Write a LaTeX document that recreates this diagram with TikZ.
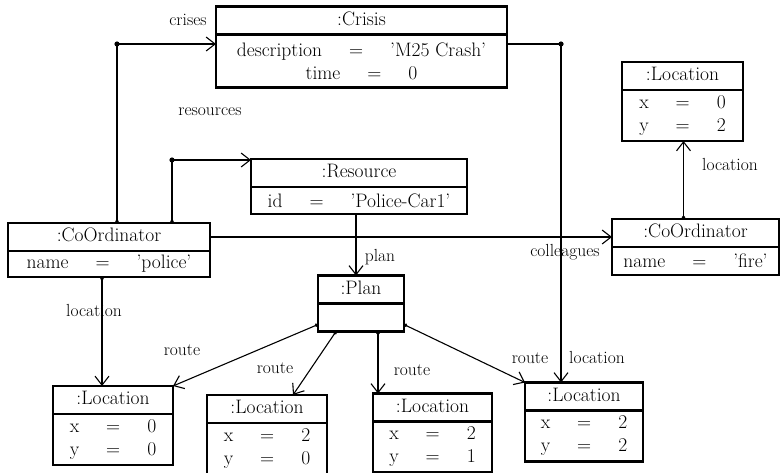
\documentclass[tikz,border=0pt]{standalone}
\usetikzlibrary{arrows.meta, positioning, calc}

\newcommand{\attr}[2]{#1\hspace{27pt}=\hspace{27pt}#2}

\begin{document}
\begin{tikzpicture}[x=1pt, y=-1pt,
            font=\fontsize{19.5}{23}\selectfont,
            head/.style={draw, line width=2.4pt, outer sep=0pt, inner sep=0pt, minimum height=28, text height=13.5pt, text depth=4pt},
            attrs/.style={draw, line width=2.4pt, outer sep=0pt, inner sep=0pt, align=center},
            assoc/.style={line width=1.1pt, -{Straight Barb[length=9pt, width=14pt]}},
            dotassoc/.style={line width=1.1pt, {Circle[length=3.5pt]}-{Straight Barb[length=9pt, width=14pt]}},
            link/.style={line width=1.1pt},
            role/.style={font=\fontsize{17.5}{20}\selectfont, inner sep=0pt}
        ]
            \fill[white] (0,0) rectangle (781,472);
            \useasboundingbox (0,0) rectangle (781,472);

% Objects
            \node[head, minimum width=291] (crisis_head) at (361.5,20.5) {:Crisis};
            \node[attrs, minimum width=291, minimum height=53, below=0pt of crisis_head] (crisis_attr) {\attr{description}{'M25 Crash'}\\\attr{time}{0}};

            \node[head, minimum width=216] (resource_head) at (359,173) {:Resource};
            \node[attrs, minimum width=216, minimum height=27, below=0pt of resource_head] (resource_attr) {\attr{id}{'Police-Car1'}};

            \node[head, minimum width=202] (police_head) at (109,237) {:CoOrdinator};
            \node[attrs, minimum width=202, minimum height=26, below=0pt of police_head] (police_attr) {\attr{name}{'police'}};

            \node[head, minimum width=167] (fire_head) at (695.5,233) {:CoOrdinator};
            \node[attrs, minimum width=167, minimum height=28, below=0pt of fire_head] (fire_attr) {\attr{name}{'fire'}};

            \node[head, minimum width=121] (fireloc_head) at (682.5,76) {:Location};
            \node[attrs, minimum width=121, minimum height=51, below=0pt of fireloc_head] (fireloc_attr) {\attr{x}{0}\\\attr{y}{2}};

            \node[head, minimum width=86] (plan_head) at (361,289.5) {:Plan};
            \node[attrs, minimum width=86, minimum height=28, below=0pt of plan_head] (plan_attr) {};

% Locations of the route
            \node[head, minimum width=120] (loc_a_head) at (113,400) {:Location};
            \node[attrs, minimum width=120, minimum height=51, below=0pt of loc_a_head] (loc_a_attr) {\attr{x}{0}\\\attr{y}{0}};
            \node[head, minimum width=120] (loc_b_head) at (267,409) {:Location};
            \node[attrs, minimum width=120, minimum height=51, below=0pt of loc_b_head] (loc_b_attr) {\attr{x}{2}\\\attr{y}{0}};
            \node[head, minimum width=119] (loc_c_head) at (432.5,407.5) {:Location};
            \node[attrs, minimum width=119, minimum height=51, below=0pt of loc_c_head] (loc_c_attr) {\attr{x}{2}\\\attr{y}{1}};
            \node[head, minimum width=118] (loc_d_head) at (584,396.5) {:Location};
            \node[attrs, minimum width=118, minimum height=51, below=0pt of loc_d_head] (loc_d_attr) {\attr{x}{2}\\\attr{y}{2}};

% Junctions
            \coordinate (crises_join) at (117,44);
            \coordinate (crisisloc_join) at (561,44);
            \coordinate (resources_join) at (172,160);

% Links
            \draw[dotassoc] (crises_join |- police_head.north) -- (crises_join) -- (crises_join -| crisis_attr.west);
            \draw[link] (crisisloc_join -| crisis_attr.east) -- (crisisloc_join);
            \draw[assoc] (crisisloc_join) -- (crisisloc_join |- loc_d_head.north);
            \draw[dotassoc] (resources_join |- police_head.north) -- (resources_join) -- (resources_join -| resource_head.west);
            \fill (crises_join) circle (2.6pt) (crisisloc_join) circle (2.6pt) (resources_join) circle (2.6pt);
            \draw[assoc] ([xshift=-3]resource_attr.south) -- ([xshift=-3]resource_attr.south |- plan_head.north);
            \draw[assoc] (police_head.east) -- (police_head.east -| fire_head.west);
            \draw[dotassoc] ([xshift=-12]fire_head.north) -- ([xshift=-12]fire_head.north |- fireloc_attr.south);
            \draw[dotassoc] ([xshift=-7]police_attr.south) -- ([xshift=-7]police_attr.south |- loc_a_head.north);
            \draw[dotassoc] ([yshift=7]plan_attr.south west) -- (loc_a_head.north east);
            \draw[dotassoc] ([xshift=-25]plan_attr.south) -- ([xshift=26]loc_b_head.north);
            \draw[dotassoc] ([xshift=17]plan_attr.south) -- ([xshift=17]plan_attr.south |- loc_c_head.north);
            \draw[dotassoc] ([yshift=7]plan_attr.south east) -- (loc_d_head.north west);

% Role names
            \node[role] (crises_lbl) at (188,20) {crises};
            \node[role] (resources_lbl) at (210,112) {resources};
            \node[role] (plan_lbl) at (380,257) {plan};
            \node[role] (colleagues_lbl) at (565,252) {colleagues};
            \node[role] (fireloc_lbl) at (730,164) {location};
            \node[role] (policeloc_lbl) at (94,310) {location};
            \node[role] (crisisloc_lbl) at (597,357) {location};
            \node[role] (route_a_lbl) at (182,350) {route};
            \node[role] (route_b_lbl) at (275,368) {route};
            \node[role] (route_c_lbl) at (412,370) {route};
            \node[role] (route_d_lbl) at (530,358) {route};

        \end{tikzpicture}
\end{document}
